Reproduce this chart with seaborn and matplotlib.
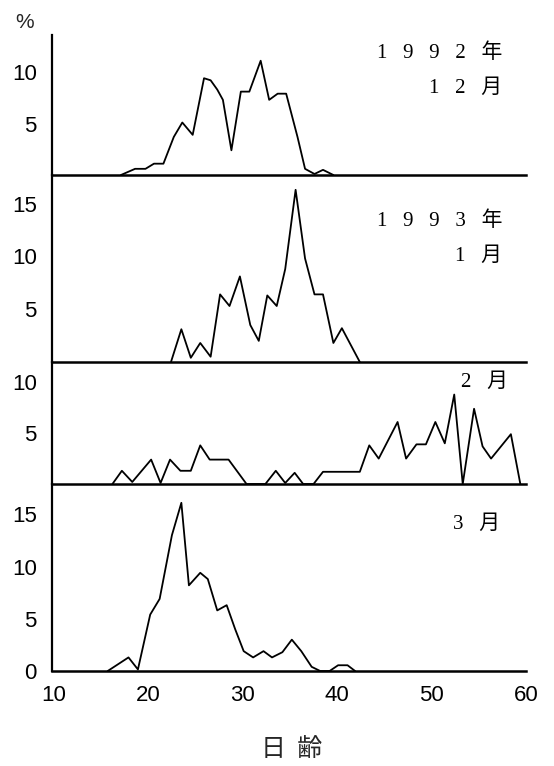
import matplotlib
matplotlib.use("Agg")
import matplotlib.pyplot as plt
import seaborn as sns
import pandas as pd

# Daily-age frequency distributions (%), one series per sampling month
dec_days = [17.1, 18.6, 19.7, 20.6, 21.6, 22.7, 23.6, 24.7, 25.9, 26.6, 27.3, 27.9,
            28.8, 29.8, 30.7, 31.9, 32.8, 33.7, 34.6, 35.8, 36.6, 37.6, 38.5, 39.6]
dec_pct = [0, 0.6, 0.6, 1.1, 1.1, 3.7, 5.1, 3.9, 9.4, 9.2, 8.3, 7.3,
           2.4, 8.1, 8.1, 11.1, 7.3, 7.9, 7.9, 3.7, 0.6, 0.1, 0.5, 0]

jan_days = [22.4, 23.5, 24.5, 25.5, 26.6, 27.6, 28.6, 29.7, 30.8, 31.7, 32.6, 33.6,
            34.5, 35.6, 36.6, 37.6, 38.5, 39.6, 40.5, 42.4]
jan_pct = [0, 3.1, 0.4, 1.8, 0.5, 6.4, 5.3, 8.1, 3.5, 2.0, 6.3, 5.3,
           8.8, 16.3, 9.8, 6.4, 6.4, 1.8, 3.2, 0]

feb_days = [16.2, 17.2, 18.3, 20.3, 21.3, 22.3, 23.4, 24.5, 25.5, 26.5, 28.5, 30.4,
            32.4, 33.5, 34.5, 35.5, 36.4, 37.5, 38.5, 42.4, 43.4, 44.4, 46.4, 47.3,
            48.4, 49.4, 50.4, 51.4, 52.4, 53.3, 54.5, 55.4, 56.3, 58.4, 59.4]
feb_pct = [0, 1.3, 0.2, 2.4, 0.1, 2.4, 1.3, 1.3, 3.8, 2.4, 2.4, 0,
           0, 1.3, 0.1, 1.1, 0, 0, 1.2, 1.2, 3.8, 2.5, 6.1, 2.5,
           3.9, 3.9, 6.1, 4.0, 8.8, 0, 7.4, 3.7, 2.5, 4.9, 0]

mar_days = [15.7, 17.9, 18.9, 20.2, 21.2, 22.5, 23.5, 24.3, 25.5, 26.3, 27.3, 28.3,
            29.2, 30.1, 31.1, 32.2, 33.1, 34.2, 35.2, 36.2, 37.3, 38.2, 39.2, 40.1,
            41.1, 41.9]
mar_pct = [0, 1.3, 0.15, 5.4, 6.9, 13.0, 16.1, 8.2, 9.4, 8.8, 5.8, 6.3,
           4.0, 1.9, 1.3, 1.9, 1.3, 1.8, 3.0, 1.9, 0.4, 0, 0, 0.55,
           0.55, 0]

panel_labels = [["1   9   9   2   年", "1   2   月"],
                ["1   9   9   3   年", "1   月"],
                ["2   月"],
                ["3   月"]]
y_ticks = [[5, 10], [5, 10, 15], [5, 10], [0, 5, 10, 15]]
x_ticks = [10, 20, 30, 40, 50, 60]
x_label = "日  齢"
y_unit = "%"

sns.set_style("white")
plt.rcParams["font.family"] = ["Liberation Sans", "Noto Sans CJK JP"]

W, H = 554, 766
fig = plt.figure(figsize=(W / 100, H / 100), dpi=100)

# panel frames in pixels: (top, bottom, ymax)
frames = [(35, 175, 13.6), (175, 362, 17.7), (362, 484, 12.0), (484, 671, 17.9)]
left_px, right_px = 52, 526
xlim = (9.8, 60.0)

series = [(dec_days, dec_pct), (jan_days, jan_pct), (feb_days, feb_pct), (mar_days, mar_pct)]
label_pos = [[(57.5, 11.8), (57.5, 8.4)],
             [(57.5, 13.3), (57.5, 10.0)],
             [(58.1, 10.0)],
             [(57.3, 14.0)]]

label_font = ["Liberation Serif", "Noto Sans CJK JP"]

for i, ((top, bot, ymax), (d, p)) in enumerate(zip(frames, series)):
    ax = fig.add_axes([left_px / W, 1 - bot / H, (right_px - left_px) / W, (bot - top) / H])
    ax.patch.set_alpha(0)
    df = pd.DataFrame({"day": d, "pct": p})
    sns.lineplot(data=df, x="day", y="pct", ax=ax, color="black", lw=1.3,
                 sort=False, estimator=None)
    ax.set_xlim(*xlim)
    ax.set_ylim(0, ymax)
    ax.set_xlabel("")
    ax.set_ylabel("")
    for s in ("top", "right"):
        ax.spines[s].set_visible(False)
    ax.spines["left"].set_linewidth(1.6)
    ax.spines["bottom"].set_linewidth(1.8)
    ax.spines["left"].set_color("black")
    ax.spines["bottom"].set_color("black")
    ax.set_yticks(y_ticks[i])
    ax.tick_params(axis="y", direction="in", length=4, width=1, pad=11,
                   labelsize=16, colors="black")
    if i == 3:
        ax.set_xticks(x_ticks)
        ax.tick_params(axis="x", direction="in", length=5, width=1, pad=10,
                       labelsize=16, colors="black")
    else:
        ax.set_xticks([])
    for txt, (tx, ty) in zip(panel_labels[i], label_pos[i]):
        ax.text(tx, ty, txt, ha="right", va="center", fontsize=15,
                family=label_font, color="black")

# unit above the top y axis and the shared x-axis title below the bottom panel
fig.text(25 / W, 1 - 22 / H, y_unit, ha="center", va="center", fontsize=15,
         family=["Liberation Sans"])
fig.text((left_px + (35.2 - xlim[0]) / (xlim[1] - xlim[0]) * (right_px - left_px)) / W,
         1 - 749 / H, x_label, ha="center", va="center", fontsize=18,
         family=["Noto Sans CJK JP"])

fig.savefig("out.png", dpi=100, facecolor="white")
